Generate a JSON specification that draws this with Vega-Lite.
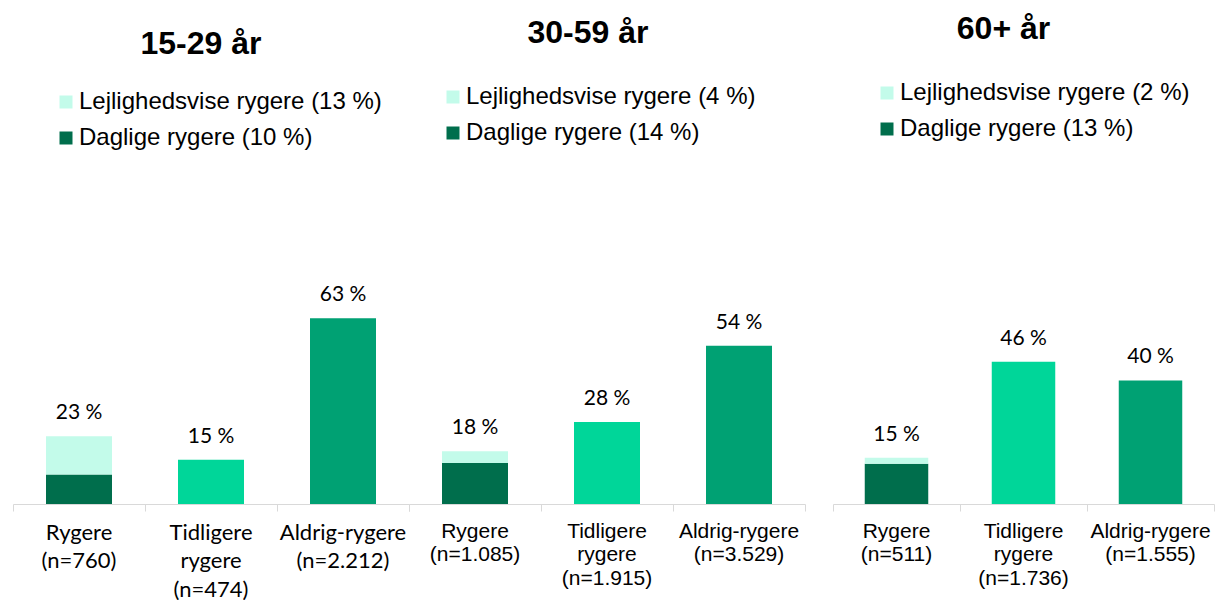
{
  "$schema": "https://vega.github.io/schema/vega-lite/v6.json",
  "padding": {"left": 12, "top": 13, "right": 0, "bottom": 0},
  "background": "white",
  "config": {
    "view": {"stroke": null},
    "axisX": {
      "title": null, "labelAngle": 0, "labelExpr": "split(datum.label,'|')",
      "labelFont": "Liberation Sans", "labelFontSize": 21, "labelLineHeight": 23.5,
      "labelColor": "#000000", "domainColor": "#D9D9D9", "tickColor": "#D9D9D9",
      "tickSize": 7, "bandPosition": 1, "tickExtra": true, "labelPadding": 9,
      "labelBaseline": "top", "labelLimit": 0, "labelOverlap": false, "labelBound": false
    },
    "legend": {
      "orient": "none", "title": null, "symbolType": "square", "symbolSize": 169,
      "labelFont": "Liberation Sans", "labelFontSize": 24, "labelColor": "#000000",
      "rowPadding": 12, "labelOffset": 1, "padding": 0, "symbolStrokeWidth": 0, "labelLimit": 0
    },
    "title": {"font": "Liberation Sans", "fontSize": 32, "fontWeight": "bold", "color": "#000000", "anchor": "middle", "baseline": "alphabetic", "frame": "group"}
  },
  "datasets": {
    "p1": [
      {"category": "Rygere|(n=760)", "series": "Daglige rygere (10 %)", "value": 10},
      {"category": "Rygere|(n=760)", "series": "Lejlighedsvise rygere (13 %)", "value": 13},
      {"category": "Tidligere|rygere|(n=474)", "series": "Tidligere rygere", "value": 15},
      {"category": "Aldrig-rygere|(n=2.212)", "series": "Aldrig-rygere", "value": 63}
    ],
    "p2": [
      {"category": "Rygere|(n=1.085)", "series": "Daglige rygere (14 %)", "value": 14},
      {"category": "Rygere|(n=1.085)", "series": "Lejlighedsvise rygere (4 %)", "value": 4},
      {"category": "Tidligere|rygere|(n=1.915)", "series": "Tidligere rygere", "value": 28},
      {"category": "Aldrig-rygere|(n=3.529)", "series": "Aldrig-rygere", "value": 54}
    ],
    "p3": [
      {"category": "Rygere|(n=511)", "series": "Daglige rygere (13 %)", "value": 13},
      {"category": "Rygere|(n=511)", "series": "Lejlighedsvise rygere (2 %)", "value": 2},
      {"category": "Tidligere|rygere|(n=1.736)", "series": "Tidligere rygere", "value": 46},
      {"category": "Aldrig-rygere|(n=1.555)", "series": "Aldrig-rygere", "value": 40}
    ]
  },
  "spacing": 0,
  "bounds": "flush",
  "resolve": {"scale": {"x": "independent", "y": "independent", "color": "independent"}, "legend": {"color": "independent"}, "axis": {"x": "independent"}},
  "hconcat": [
    {
      "width": 396, "height": 343,
      "data": {"name": "p1"},
      "title": {"text": "15-29 år", "dx": -10, "offset": 29},
      "encoding": {
        "x": {"field": "category", "type": "nominal", "sort": null, "scale": {"paddingInner": 0, "paddingOuter": 0},
              "axis": {"labelFont": "Lato", "labelFontSize": 22, "labelLineHeight": 28.5, "labelPadding": 11}}
      },
      "layer": [
        {
          "mark": {"type": "bar", "width": {"band": 0.5}},
          "encoding": {
            "y": {"field": "value", "type": "quantitative", "stack": "zero", "scale": {"domain": [0, 116.3], "nice": false}, "axis": null},
            "order": {"field": "series", "type": "nominal", "sort": "ascending"},
            "color": {"field": "series", "type": "nominal",
              "scale": {"domain": ["Daglige rygere (10 %)", "Lejlighedsvise rygere (13 %)", "Tidligere rygere", "Aldrig-rygere"], "range": ["#006E4C", "#C3FBEA", "#00D699", "#00A173"]},
              "legend": {"values": ["Lejlighedsvise rygere (13 %)", "Daglige rygere (10 %)"], "legendX": 41, "legendY": -71}}
          }
        },
        {
          "transform": [{"aggregate": [{"op": "sum", "field": "value", "as": "total"}], "groupby": ["category"]}],
          "mark": {"type": "text", "baseline": "alphabetic", "dy": -17, "font": "Lato", "fontSize": 21, "color": "#000000", "text": {"expr": "datum.total + ' %'"}},
          "encoding": {"y": {"field": "total", "type": "quantitative"}}
        }
      ]
    },
    {
      "width": 396, "height": 343,
      "data": {"name": "p2"},
      "title": {"text": "30-59 år", "dx": -19, "offset": 35},
      "encoding": {
        "x": {"field": "category", "type": "nominal", "sort": null, "scale": {"paddingInner": 0, "paddingOuter": 0}}
      },
      "layer": [
        {
          "mark": {"type": "bar", "width": {"band": 0.5}},
          "encoding": {
            "y": {"field": "value", "type": "quantitative", "stack": "zero", "scale": {"domain": [0, 117], "nice": false}, "axis": null},
            "order": {"field": "series", "type": "nominal", "sort": "ascending"},
            "color": {"field": "series", "type": "nominal",
              "scale": {"domain": ["Daglige rygere (14 %)", "Lejlighedsvise rygere (4 %)", "Tidligere rygere", "Aldrig-rygere"], "range": ["#006E4C", "#C3FBEA", "#00D699", "#00A173"]},
              "legend": {"values": ["Lejlighedsvise rygere (4 %)", "Daglige rygere (14 %)"], "legendX": 32, "legendY": -76}}
          }
        },
        {
          "transform": [{"aggregate": [{"op": "sum", "field": "value", "as": "total"}], "groupby": ["category"]}],
          "mark": {"type": "text", "baseline": "alphabetic", "dy": -17, "font": "Lato", "fontSize": 21, "color": "#000000", "text": {"expr": "datum.total + ' %'"}},
          "encoding": {"y": {"field": "total", "type": "quantitative"}}
        }
      ]
    },
    {
      "width": 409, "height": 343,
      "data": {"name": "p3"},
      "title": {"text": "60+ år", "dx": -6, "offset": 35},
      "encoding": {
        "x": {"field": "category", "type": "nominal", "sort": null, "scale": {"paddingInner": 0, "paddingOuter": 0, "range": [28, 409]}}
      },
      "layer": [
        {
          "mark": {"type": "bar", "width": {"band": 0.5}},
          "encoding": {
            "y": {"field": "value", "type": "quantitative", "stack": "zero", "scale": {"domain": [0, 111], "nice": false}, "axis": null},
            "order": {"field": "series", "type": "nominal", "sort": "ascending"},
            "color": {"field": "series", "type": "nominal",
              "scale": {"domain": ["Daglige rygere (13 %)", "Lejlighedsvise rygere (2 %)", "Tidligere rygere", "Aldrig-rygere"], "range": ["#006E4C", "#C3FBEA", "#00D699", "#00A173"]},
              "legend": {"values": ["Lejlighedsvise rygere (2 %)", "Daglige rygere (13 %)"], "legendX": 70, "legendY": -80}}
          }
        },
        {
          "transform": [{"aggregate": [{"op": "sum", "field": "value", "as": "total"}], "groupby": ["category"]}],
          "mark": {"type": "text", "baseline": "alphabetic", "dy": -17, "font": "Lato", "fontSize": 21, "color": "#000000", "text": {"expr": "datum.total + ' %'"}},
          "encoding": {"y": {"field": "total", "type": "quantitative"}}
        }
      ]
    }
  ]
}
